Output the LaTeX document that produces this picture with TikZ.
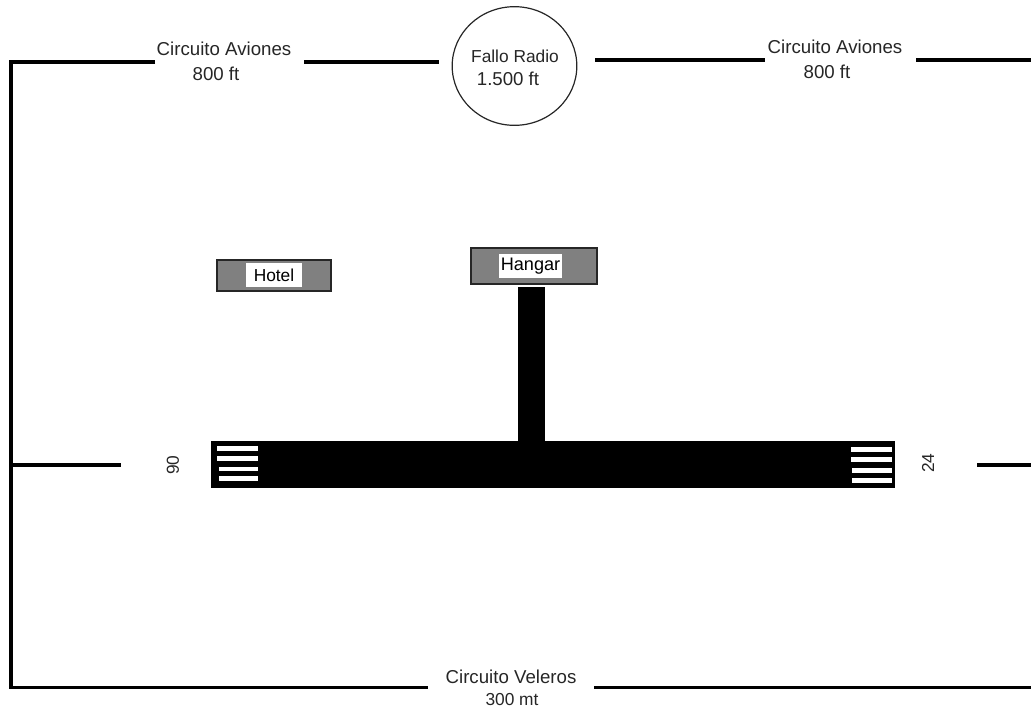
\documentclass[tikz,border=0pt]{standalone}
\usepackage{fontspec}
\usetikzlibrary{shapes.geometric}
\setmainfont{Liberation Sans}
\begin{document}
\begin{tikzpicture}[x=0.75pt,y=-0.75pt,
  route/.style={line width=2.3pt,black,line cap=butt,line join=miter},
  lbl/.style={inner sep=0pt,font=\fontsize{14pt}{16pt}\selectfont,text=black!85},
  lbls/.style={inner sep=0pt,font=\fontsize{13pt}{15pt}\selectfont,text=black!85},
  bldg/.style={draw=black!85,fill=black!50,line width=1pt,inner sep=0pt},
  tag/.style={fill=white,inner sep=0pt,font=\fontsize{13pt}{15pt}\selectfont,text=black},
  stripe/.style={fill=white,draw=none}]
\useasboundingbox (0,0) rectangle (1031,708);
% routes
\coordinate (tlc) at (11,62);
\coordinate (tl1) at (155,62);
\coordinate (tl2) at (304,62);
\coordinate (tl3) at (439,62);
\coordinate (tr1) at (595,60);
\coordinate (tr2) at (765,60);
\coordinate (tr3) at (916,60);
\coordinate (tr4) at (1031,60);
\coordinate (ml) at (11,465);
\coordinate (ml2) at (121,465);
\coordinate (mr1) at (977,465);
\coordinate (mr2) at (1031,465);
\coordinate (blc) at (11,687.5);
\coordinate (bl2) at (428,687.5);
\coordinate (br1) at (594,687.5);
\coordinate (br2) at (1031,687.5);
\draw[route] (tl1) -- (tlc) -- (blc) -- (bl2);
\draw[route] (tl2) -- (tl3);
\draw[route] (tr1) -- (tr2);
\draw[route] (tr3) -- (tr4);
\draw[route] (ml) -- (ml2);
\draw[route] (mr1) -- (mr2);
\draw[route] (br1) -- (br2);
% circle
\node[ellipse,draw=black!85,line width=0.9pt,minimum width=93.5pt,minimum height=89pt,inner sep=0pt] (fallo) at (514.5,66) {};
\node[lbls] (fr1) at (515,56) {Fallo Radio};
\node[lbl] (fr2) at (508,78.5) {1.500 ft};
% labels
\node[lbl] (ca1) at (224,49) {Circuito Aviones};
\node[lbl] (ca2) at (216,73.5) {800 ft};
\node[lbl] (cb1) at (835,47) {Circuito Aviones};
\node[lbl] (cb2) at (827,71.5) {800 ft};
\node[lbl] (cv1) at (511,677) {Circuito Veleros};
\node[lbls] (cv2) at (512,700) {300 mt};
% buildings
\fill[black] (518,287) rectangle (545,441);
\fill[black] (211,441) rectangle (895,488);
\draw[bldg] (217,260) rectangle (331,291);
\draw[bldg] (471,248) rectangle (597,284);
\node[tag,minimum width=41.5pt,minimum height=18pt] (hotel) at (274,275) {Hotel};
\node[tag,minimum width=47pt,minimum height=18pt,font=\fontsize{13.6pt}{15pt}\selectfont] (hangar) at (530.5,266) {Hangar};
% stripes
\fill[stripe] (217,446) rectangle (258,451);
\fill[stripe] (217,456) rectangle (258,461);
\fill[stripe] (219,467) rectangle (258,471);
\fill[stripe] (219,476) rectangle (258,481);
\fill[stripe] (851,447) rectangle (892,452);
\fill[stripe] (851,457) rectangle (892,462);
\fill[stripe] (852,468) rectangle (892,473);
\fill[stripe] (852,478) rectangle (892,483);
\node[lbls,rotate=90] (rw90) at (173,465) {90};
\node[lbls,rotate=90] (rw24) at (928,463) {24};
\end{tikzpicture}
\end{document}
